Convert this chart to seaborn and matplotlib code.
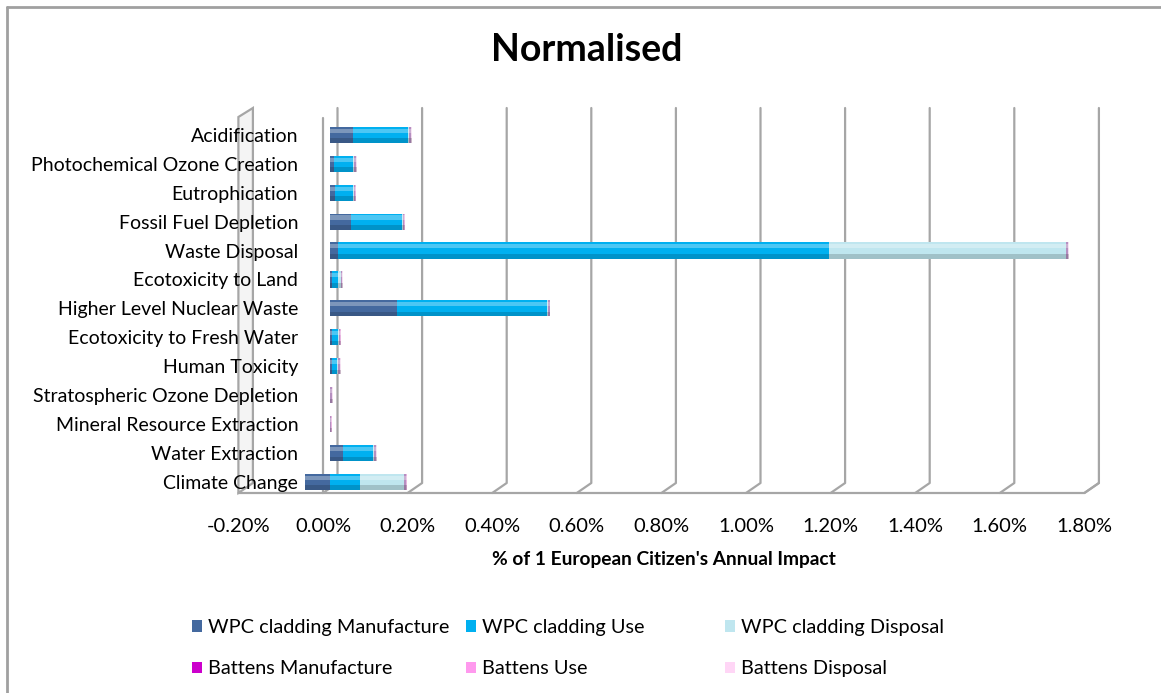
import numpy as np
import pandas as pd
import matplotlib
matplotlib.use("Agg")
import matplotlib.pyplot as plt
import seaborn as sns
from matplotlib.transforms import ScaledTranslation
from matplotlib.patches import Rectangle, Polygon
from matplotlib.lines import Line2D

# ---------------- data (values in % of 1 European citizen's annual impact) -------------
categories = [
    "Acidification",
    "Photochemical Ozone Creation",
    "Eutrophication",
    "Fossil Fuel Depletion",
    "Waste Disposal",
    "Ecotoxicity to Land",
    "Higher Level Nuclear Waste",
    "Ecotoxicity to Fresh Water",
    "Human Toxicity",
    "Stratospheric Ozone Depletion",
    "Mineral Resource Extraction",
    "Water Extraction",
    "Climate Change",
]
wpc_manufacture = [0.055, 0.010, 0.012, 0.050, 0.020, 0.005, 0.158, 0.004, 0.004, 0.000, 0.000, 0.030, -0.060]
wpc_use         = [0.130, 0.045, 0.042, 0.120, 1.160, 0.015, 0.355, 0.015, 0.012, 0.001, 0.000, 0.072, 0.072]
wpc_disposal    = [0.002, 0.002, 0.002, 0.002, 0.560, 0.005, 0.002, 0.002, 0.004, 0.000, 0.000, 0.002, 0.104]
battens_manufacture = [0.004, 0.004, 0.004, 0.004, 0.004, 0.003, 0.004, 0.003, 0.003, 0.003, 0.003, 0.004, 0.004]
battens_use         = [0.001, 0.001, 0.001, 0.001, 0.001, 0.001, 0.001, 0.001, 0.001, 0.001, 0.001, 0.001, 0.001]
battens_disposal    = [0.001, 0.001, 0.001, 0.001, 0.001, 0.001, 0.001, 0.001, 0.001, 0.001, 0.001, 0.001, 0.001]

series_names = [
    "WPC cladding Manufacture", "WPC cladding Use", "WPC cladding Disposal",
    "Battens Manufacture", "Battens Use", "Battens Disposal",
]
series_values = [wpc_manufacture, wpc_use, wpc_disposal,
                 battens_manufacture, battens_use, battens_disposal]
series_colors = ["#44699F", "#00B0F0", "#BFE6EF", "#CC00CC", "#FF99EE", "#FFD6F6"]
bar_colors = ["#44699F", "#00B0F0", "#BFE6EF", "#B58FC0", "#E7B5E0", "#F3DDF0"]

tick_values = [-0.2, 0.0, 0.2, 0.4, 0.6, 0.8, 1.0, 1.2, 1.4, 1.6, 1.8]
tick_labels = ["-0.20%", "0.00%", "0.20%", "0.40%", "0.60%", "0.80%",
               "1.00%", "1.20%", "1.40%", "1.60%", "1.80%"]

title = "Normalised"
x_title = "% of 1 European Citizen's Annual Impact"

# ---------------- style ----------------
sns.set_theme(style="white")
plt.rcParams['font.family'] = ['Lato', 'DejaVu Sans']
plt.rcParams['text.color'] = 'black'
plt.rcParams['axes.labelcolor'] = 'black'
plt.rcParams['xtick.color'] = 'black'
plt.rcParams['ytick.color'] = 'black'

W, H = 1161, 693
fig = plt.figure(figsize=(W / 100, H / 100), dpi=100)
fig.patch.set_facecolor("white")

ax_left, ax_right, ax_top, ax_bot = 245.4, 1091.4, 108.0, 492.0
ax = fig.add_axes([ax_left / W, 1 - ax_bot / H, (ax_right - ax_left) / W, (ax_bot - ax_top) / H])
ax.patch.set_visible(False)

ov = fig.add_axes([0, 0, 1, 1], zorder=-5)
ov.set_xlim(0, W)
ov.set_ylim(H, 0)
ov.axis("off")

# ---------------- stacked bars via seaborn (overlay of cumulative sums) -------------
df = pd.DataFrame({"category": categories})
for n, v in zip(series_names, series_values):
    df[n] = v
pos = df[series_names].clip(lower=0).cumsum(axis=1)
neg = df[series_names].clip(upper=0).cumsum(axis=1)

bar_h = 0.56


def add_shading(new_patches):
    for p in new_patches:
        w = p.get_width()
        if abs(w) < 1e-9:
            continue
        x0, y0, h = p.get_x(), p.get_y(), p.get_height()
        ax.add_patch(Rectangle((x0, y0 + 0.12 * h), w, 0.25 * h, facecolor="white",
                               alpha=0.30, linewidth=0))
        ax.add_patch(Rectangle((x0, y0 + 0.72 * h), w, 0.28 * h, facecolor="black",
                               alpha=0.16, linewidth=0))


for i in reversed(range(len(series_names))):
    for frame in (pos, neg):
        before = len(ax.patches)
        sns.barplot(x=frame[series_names[i]].values, y=df["category"], color=bar_colors[i],
                    orient="h", width=bar_h, saturation=1, linewidth=0, ax=ax)
        add_shading(list(ax.patches)[before:])

ax.set_xlim(tick_values[0], tick_values[-1])
ax.set_ylim(12.35, -0.93)
ax.set_xticks(tick_values)
ax.set_xticklabels(tick_labels)
ax.set_ylabel("")
ax.set_xlabel(x_title, fontsize=13.8, fontweight="bold", va="center", color="black")
ax.xaxis.set_label_coords((664 - ax_left) / (ax_right - ax_left), -(559 - ax_bot) / (ax_bot - ax_top))
for s in ax.spines.values():
    s.set_visible(False)
ax.tick_params(axis="x", length=0, pad=19, labelsize=14.5, labelcolor="black")
ax.tick_params(axis="y", length=0, pad=-38, labelsize=14, labelcolor="black")
for lbl in ax.get_xticklabels():
    lbl.set_transform(lbl.get_transform() + ScaledTranslation(-0.07, 0, fig.dpi_scale_trans))

# ---------------- pseudo-3D walls & grid (pixel overlay derived from tick values) -------
def mid_px(t):
    return ax_left + (t - tick_values[0]) / (tick_values[-1] - tick_values[0]) * (ax_right - ax_left)

grid_c = "#A6A6A6"
back, front = 7.5, -7.0
floor_y, back_floor_y = 493, 483
wall = Polygon([(mid_px(tick_values[0]) + front, 117), (mid_px(tick_values[0]) + back, 108),
                (mid_px(tick_values[0]) + back, back_floor_y), (mid_px(tick_values[0]) + front, floor_y)],
               closed=True, facecolor="#F4F4F4", edgecolor=grid_c, linewidth=1.6)
ov.add_patch(wall)
for t in tick_values[1:]:
    xm = mid_px(t)
    ov.add_line(Line2D([xm + back, xm + back, xm + front], [108, back_floor_y, floor_y],
                       color=grid_c, linewidth=1.6))
ov.add_line(Line2D([mid_px(0) + front] * 2, [118, floor_y], color=grid_c, linewidth=1.6))
ov.add_line(Line2D([mid_px(tick_values[0]) + front, mid_px(tick_values[-1]) + front,
                    mid_px(tick_values[-1]) + back],
                   [floor_y, floor_y, back_floor_y], color=grid_c, linewidth=1.6))

# outer chart border (top & left visible)
ov.add_line(Line2D([7, W], [7, 7], color="#A0A0A0", linewidth=2))
ov.add_line(Line2D([7, 7], [7, H], color="#A0A0A0", linewidth=2))

# ---------------- title ----------------
fig.text(587 / W, 1 - 50 / H, title, fontsize=27, fontweight="bold", ha="center", va="center",
         color="black")

# ---------------- legend (3 columns, 2 rows) ----------------
handles = [Rectangle((0, 0), 1, 1, facecolor=c, edgecolor="none") for c in series_colors]
col_x = [192, 466, 725]
for k in range(3):
    hs = [handles[k], handles[k + 3]]
    ls = [series_names[k], series_names[k + 3]]
    leg = fig.legend(hs, ls, loc="upper left", bbox_to_anchor=(col_x[k] / W, 1 - 619 / H),
                     frameon=False, fontsize=14.3, handlelength=0.5, handleheight=0.5,
                     handletextpad=0.3, labelspacing=1.22, borderpad=0, borderaxespad=0)
    for tx in leg.get_texts():
        tx.set_color("black")

fig.savefig("out.png", dpi=100)
